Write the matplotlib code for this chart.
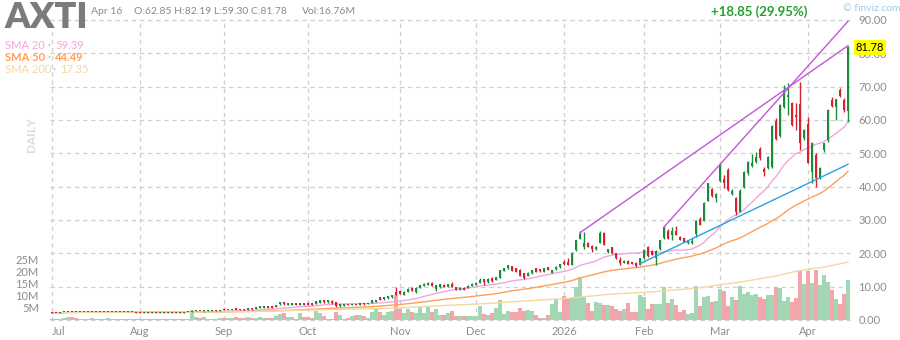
import matplotlib.pyplot as plt
import numpy as np
import pandas as pd

plt.rcParams['font.family'] = ['Lato', 'DejaVu Sans']

# ── styling ────────────────────────────────────────────────────────────────
GREEN = "#1b8c3a"
RED = "#d8202e"
VOL_GREEN = "#a3d6b2"
VOL_RED = "#f1a6ac"
SMA20_COLOR = "#f2a6de"
SMA50_COLOR = "#ff9f57"
SMA200_COLOR = "#f3d8a0"
TREND_PURPLE = "#c455dc"
TREND_BLUE = "#25a3e3"
GRID_COLOR = "#cfcfcf"
LABEL_GRAY = "#8c8c8c"
PRICE_TOP = 90
VOL_TOP = 125e6
W, H = 900, 340
# ───────────────────────────────────────────────────────────────────────────

# trading calendar
HOLIDAYS = ["2025-07-04", "2025-09-01", "2025-11-27", "2025-12-25",
            "2026-01-01", "2026-01-19", "2026-02-16", "2026-04-03"]
dates = pd.bdate_range("2025-07-01", "2026-04-16")
dates = dates[~dates.isin(pd.to_datetime(HOLIDAYS))]

# daily bars (open, high, low, close), one list per month
jul = [(2.35, 2.40, 2.00, 2.05), (2.15, 2.20, 2.00, 2.05), (2.10, 2.32, 2.05, 2.30),
       (2.30, 2.48, 2.28, 2.45), (2.40, 2.50, 2.35, 2.45), (2.50, 2.55, 2.36, 2.40),
       (2.40, 2.44, 2.26, 2.30), (2.30, 2.42, 2.28, 2.40), (2.40, 2.48, 2.36, 2.45),
       (2.40, 2.52, 2.38, 2.50), (2.45, 2.55, 2.42, 2.50), (2.50, 2.54, 2.36, 2.40),
       (2.40, 2.52, 2.38, 2.50), (2.50, 2.55, 2.36, 2.40), (2.40, 2.48, 2.37, 2.45),
       (2.50, 2.52, 2.32, 2.35), (2.45, 2.48, 2.32, 2.35), (2.35, 2.48, 2.33, 2.45),
       (2.50, 2.52, 2.33, 2.35), (2.45, 2.47, 2.28, 2.30), (2.30, 2.42, 2.28, 2.40),
       (2.40, 2.42, 2.22, 2.25)]
aug = [(2.30, 2.33, 2.17, 2.20), (2.20, 2.32, 2.18, 2.30), (2.30, 2.32, 2.17, 2.20),
       (2.20, 2.32, 2.18, 2.30), (2.30, 2.32, 2.12, 2.15), (2.15, 2.32, 2.13, 2.30),
       (2.30, 2.33, 2.17, 2.20), (2.20, 2.32, 2.18, 2.30), (2.30, 2.32, 2.17, 2.20),
       (2.20, 2.28, 2.18, 2.25), (2.30, 2.32, 2.17, 2.20), (2.20, 2.32, 2.18, 2.30),
       (2.30, 2.42, 2.26, 2.40), (2.40, 2.85, 2.38, 2.75), (2.65, 2.88, 2.60, 2.80),
       (2.80, 2.84, 2.56, 2.60), (2.60, 2.78, 2.55, 2.75), (2.75, 2.98, 2.72, 2.95),
       (2.85, 3.04, 2.82, 3.00), (3.00, 3.05, 2.80, 2.85), (2.85, 3.10, 2.82, 3.05)]
sep = [(3.40, 3.55, 2.95, 3.00), (3.00, 3.35, 2.95, 3.30), (3.10, 3.35, 3.05, 3.30),
       (3.50, 3.60, 3.05, 3.10), (3.40, 3.45, 3.05, 3.10), (3.30, 3.35, 3.05, 3.10),
       (3.10, 3.55, 3.05, 3.50), (3.50, 3.60, 3.15, 3.20), (3.30, 3.95, 3.25, 3.90),
       (3.60, 4.15, 3.55, 4.10), (3.70, 4.15, 3.65, 4.10), (4.20, 4.30, 3.65, 3.70),
       (4.10, 4.15, 3.65, 3.70), (3.90, 4.45, 3.85, 4.40), (4.70, 5.40, 4.60, 5.30),
       (5.30, 5.45, 4.65, 4.70), (4.50, 5.05, 4.45, 5.00), (4.50, 5.15, 4.40, 5.10),
       (5.10, 5.20, 4.55, 4.60), (4.60, 5.05, 4.50, 5.00), (5.10, 5.20, 4.55, 4.60)]
oct_ = [(5.20, 5.30, 4.45, 4.50), (5.00, 5.05, 4.45, 4.50), (4.80, 5.75, 4.75, 5.70),
        (5.20, 5.95, 5.15, 5.90), (5.90, 6.00, 5.25, 5.30), (5.30, 5.95, 5.25, 5.90),
        (5.80, 5.90, 4.95, 5.00), (5.40, 5.45, 4.00, 4.10), (4.10, 4.75, 4.00, 4.70),
        (4.20, 4.75, 4.15, 4.70), (4.90, 4.95, 4.45, 4.50), (4.50, 4.95, 4.45, 4.90),
        (4.90, 4.95, 4.45, 4.50), (4.60, 5.15, 4.55, 5.10), (5.20, 5.25, 4.65, 4.70),
        (4.80, 5.25, 4.75, 5.20), (5.20, 5.95, 5.15, 5.90), (5.50, 6.15, 5.45, 6.10),
        (6.80, 6.90, 5.95, 6.00), (6.20, 6.95, 6.15, 6.90), (6.50, 7.25, 6.45, 7.20),
        (6.80, 7.45, 6.75, 7.40), (8.50, 10.00, 7.50, 7.60)]
nov = [(8.80, 9.00, 7.70, 7.80), (7.60, 8.60, 7.50, 8.50), (8.50, 9.50, 8.40, 9.40),
       (9.70, 9.90, 8.70, 8.80), (8.50, 9.80, 8.00, 9.70), (9.70, 10.50, 9.60, 10.40),
       (10.20, 11.00, 10.10, 10.90), (10.60, 11.30, 10.50, 11.10), (11.20, 11.30, 10.20, 10.30),
       (9.30, 10.60, 8.80, 10.50), (9.80, 10.80, 9.70, 10.70), (10.60, 10.70, 9.80, 9.90),
       (10.00, 10.80, 9.90, 10.70), (10.80, 11.50, 9.90, 10.00), (9.80, 9.90, 9.00, 9.10),
       (9.10, 9.80, 9.00, 9.70), (9.70, 9.80, 9.00, 9.10), (9.60, 10.40, 9.50, 10.30),
       (10.30, 11.00, 10.20, 10.90)]
dec = [(10.60, 11.30, 10.50, 11.20), (11.20, 12.60, 11.10, 12.10), (12.20, 12.30, 10.60, 11.30),
       (11.30, 12.50, 11.20, 12.40), (12.70, 12.90, 11.50, 11.60), (12.00, 12.90, 11.90, 12.80),
       (12.60, 15.10, 12.50, 15.00), (14.80, 15.70, 14.60, 15.50), (15.50, 16.60, 15.40, 16.40),
       (16.10, 16.30, 14.70, 14.80), (15.50, 15.60, 14.40, 14.50), (15.00, 15.20, 13.20, 13.30),
       (14.00, 14.10, 12.40, 12.60), (13.20, 14.30, 13.10, 14.20), (14.00, 15.10, 13.90, 15.00),
       (15.50, 15.70, 14.40, 14.50), (15.20, 15.40, 14.50, 14.60), (14.50, 15.60, 14.40, 15.50),
       (15.80, 16.00, 14.90, 15.00), (14.20, 15.10, 14.10, 15.00), (15.20, 16.10, 15.10, 16.00),
       (15.80, 16.90, 15.70, 16.80)]
jan = [(17.50, 18.00, 16.60, 16.70), (17.30, 18.60, 16.50, 16.60), (16.60, 20.30, 16.50, 20.20),
       (21.00, 24.10, 20.80, 24.00), (24.40, 26.60, 24.20, 25.80), (21.80, 26.40, 21.20, 23.20),
       (23.00, 23.40, 21.90, 22.00), (22.20, 22.40, 20.40, 21.20), (21.20, 22.20, 21.00, 22.00),
       (23.20, 26.60, 23.00, 26.00), (26.00, 26.30, 22.40, 22.50), (20.50, 21.40, 20.20, 21.20),
       (21.80, 22.00, 19.90, 20.00), (20.00, 20.20, 18.40, 18.50), (18.00, 18.80, 16.50, 17.20),
       (17.20, 17.90, 17.00, 17.80), (17.70, 17.90, 16.80, 16.90), (17.30, 17.50, 16.70, 16.80),
       (17.10, 17.30, 16.00, 16.30), (16.50, 18.60, 16.40, 18.50)]
feb = [(18.50, 21.20, 18.30, 21.00), (21.80, 22.20, 19.00, 19.20), (20.60, 21.00, 19.40, 19.50),
       (18.60, 21.00, 16.60, 20.80), (21.20, 24.00, 21.00, 23.90), (24.60, 28.10, 24.40, 28.00),
       (26.60, 27.30, 24.20, 24.30), (25.50, 28.00, 24.00, 26.60), (26.60, 28.20, 25.40, 25.50),
       (25.00, 25.20, 23.90, 24.00), (24.50, 24.70, 23.40, 23.50), (23.00, 23.90, 22.80, 23.80),
       (23.00, 24.50, 22.80, 23.80), (25.80, 30.00, 24.80, 29.80), (30.20, 30.80, 28.40, 28.60),
       (29.80, 35.40, 29.60, 35.20), (35.80, 41.20, 35.60, 41.00), (39.20, 39.60, 37.00, 37.20),
       (36.60, 38.00, 35.50, 37.80)]
mar = [(41.80, 47.00, 41.50, 46.50), (42.20, 43.50, 39.50, 41.20), (45.00, 45.50, 38.80, 39.00),
       (37.80, 39.20, 37.50, 38.80), (36.50, 37.00, 31.50, 32.50), (32.50, 39.20, 32.30, 38.80),
       (40.00, 44.80, 39.50, 44.50), (44.00, 47.80, 43.50, 47.50), (46.20, 49.80, 45.80, 47.20),
       (47.50, 50.50, 47.20, 49.00), (51.30, 51.80, 48.00, 48.50), (45.30, 45.80, 43.20, 44.50),
       (45.50, 49.30, 45.20, 49.00), (46.00, 58.50, 45.60, 58.20), (59.80, 60.50, 54.00, 54.40),
       (55.20, 64.80, 54.80, 64.50), (64.00, 70.50, 63.50, 69.00), (66.80, 71.00, 61.50, 67.50),
       (65.00, 65.50, 58.20, 58.50), (61.50, 65.00, 57.00, 60.80), (64.70, 71.50, 51.00, 53.00),
       (54.50, 57.30, 54.00, 57.00)]
apr = [(58.80, 61.00, 47.00, 47.20), (44.50, 53.50, 41.00, 53.00), (49.50, 50.00, 40.00, 42.50),
       (42.50, 45.80, 42.20, 45.50), (51.00, 53.20, 50.50, 53.00), (54.00, 63.30, 53.50, 63.00),
       (66.00, 67.00, 63.80, 64.30), (64.00, 66.40, 60.00, 66.20), (69.00, 69.50, 66.80, 67.30),
       (66.00, 66.50, 62.50, 62.93), (62.85, 82.19, 59.30, 81.78)]

# daily volume, millions of shares
vol_jul = [0.6, 0.4, 0.5, 0.9, 1.1, 1.2, 0.8, 0.5, 0.4, 0.6, 0.7, 0.5, 0.4, 0.6, 0.8, 0.5,
           0.4, 0.3, 0.5, 0.6, 0.4, 0.5]
vol_aug = [0.4, 0.3, 0.4, 0.3, 0.5, 0.4, 0.3, 0.4, 0.3, 0.3, 0.4, 0.3, 0.5, 4.2, 1.4, 0.8,
           1.2, 0.6, 0.5, 0.5, 1.0]
vol_sep = [0.8, 0.9, 0.7, 1.2, 0.8, 0.7, 1.1, 0.9, 1.0, 1.3, 0.8, 0.9, 1.0, 1.7, 2.4, 2.9,
           1.2, 1.4, 0.5, 2.8, 1.4]
vol_oct = [1.4, 0.9, 3.8, 2.8, 1.7, 0.5, 0.5, 3.5, 2.1, 0.5, 0.9, 1.7, 2.1, 1.9, 1.7, 0.9,
           3.5, 5.1, 3.5, 1.9, 3.4, 3.8, 10.4]
vol_nov = [4.4, 2.8, 4.6, 3.2, 2.8, 5.4, 3.0, 5.7, 3.5, 4.4, 2.1, 2.1, 2.8, 3.8, 1.7, 1.7,
           1.7, 1.7, 1.7]
vol_dec = [1.7, 5.8, 2.5, 2.1, 3.1, 4.9, 8.3, 2.5, 3.9, 3.5, 3.5, 5.1, 3.9, 4.2, 3.9, 2.1,
           1.0, 0.8, 2.1, 6.7, 8.8, 3.5]
vol_jan = [10.0, 8.8, 9.4, 13.6, 17.8, 9.4, 7.2, 3.9, 7.6, 7.0, 6.2, 6.4, 5.8, 4.6, 3.9, 4.6,
           7.0, 3.5, 3.5, 10.4]
vol_feb = [9.7, 4.6, 6.7, 6.7, 6.7, 13.6, 7.0, 8.6, 6.2, 3.5, 4.2, 2.5, 2.8, 14.2, 5.8, 9.7,
           10.0, 7.6, 8.0]
vol_mar = [12.8, 12.2, 5.8, 9.4, 8.3, 14.2, 10.8, 11.7, 10.6, 10.8, 9.7, 8.6, 10.4, 10.4,
           13.6, 13.3, 8.0, 9.4, 7.5, 9.0, 20.4, 15.0]
vol_apr = [20.4, 15.3, 20.8, 14.6, 18.8, 16.0, 12.5, 8.6, 6.7, 10.7, 16.76]

# trend lines: (start date, start price, end date, end price)
trend_purple = [("2026-01-08", 26.2, "2026-04-16", 82.3),
                ("2026-02-09", 27.9, "2026-04-16", 89.6)]
trend_blue = [("2026-01-30", 16.9, "2026-04-16", 46.7)]

sma_windows = [20, 50, 200]
sma_labels = ["SMA 20", "SMA 50", "SMA 200"]
sma_values = ["59.39", "44.49", "17.35"]

ticker = "AXTI"
header_date = "Apr 16"
header_ohlc = "O:62.85 H:82.19 L:59.30 C:81.78"
header_vol = "Vol:16.76M"
change_text = "+18.85 (29.95%)"
last_price = 81.78

ohlc = np.array(jul + aug + sep + oct_ + nov + dec + jan + feb + mar + apr)
opens, highs, lows, closes = ohlc.T
volume = np.array(vol_jul + vol_aug + vol_sep + vol_oct + vol_nov + vol_dec
                  + vol_jan + vol_feb + vol_mar + vol_apr) * 1e6
assert len(ohlc) == len(dates) == len(volume)

x = np.arange(len(dates))
pos = {d.strftime("%Y-%m-%d"): i for i, d in enumerate(dates)}
up = closes >= opens
candle_colors = np.where(up, GREEN, RED)
vol_colors = np.where(up, VOL_GREEN, VOL_RED)

# first trading day of each month
month_first = [i for i in range(len(dates)) if i == 0 or dates[i].month != dates[i - 1].month]
month_names = [dates[i].strftime("%b") if dates[i].month != 1 else str(dates[i].year)
               for i in month_first]

fig = plt.figure(figsize=(W / 100, H / 100), dpi=100)
axv = fig.add_axes([50 / W, 20 / H, 800 / W, 300 / H])
ax = axv.twinx()
ax.set_zorder(axv.get_zorder() + 1)
ax.patch.set_visible(False)

# grid (under the volume bars)
for p in range(0, PRICE_TOP + 1, 10):
    axv.plot([0, 1], [p, p], transform=ax.get_yaxis_transform(), color=GRID_COLOR,
             lw=0.9, ls=(0, (3.5, 3)), zorder=0, clip_on=False)
for i in month_first:
    axv.axvline(i, color=GRID_COLOR, lw=0.9, ls=(0, (3.5, 3)), zorder=0)

# volume
axv.bar(x, volume, width=0.85, color=vol_colors, lw=0, zorder=1)
axv.set_ylim(0, VOL_TOP)
axv.set_xlim(-0.5, len(dates) - 0.5)

# moving averages
sma_colors = [SMA20_COLOR, SMA50_COLOR, SMA200_COLOR]
for n, c in zip(sma_windows, sma_colors):
    sma = pd.Series(closes).rolling(n, min_periods=1).mean()
    ax.plot(x, sma, color=c, lw=1.0, zorder=2)

# candles
body_low = np.minimum(opens, closes)
body_h = np.maximum(np.abs(closes - opens), 0.3)
ax.vlines(x, lows, highs, colors=candle_colors, lw=1.0, zorder=3)
ax.bar(x, body_h, bottom=body_low, width=0.72, color=candle_colors, lw=0, zorder=3)

# trend lines
for lines, c in [(trend_purple, TREND_PURPLE), (trend_blue, TREND_BLUE)]:
    for d0, p0, d1, p1 in lines:
        ax.plot([pos[d0], pos[d1]], [p0, p1], color=c, lw=1.0, zorder=4)

ax.set_ylim(0, PRICE_TOP)
ax.set_xlim(-0.5, len(dates) - 0.5)

for a in (ax, axv):
    for s in a.spines.values():
        s.set_visible(False)

# price axis on the right
ax.set_yticks(range(0, PRICE_TOP + 1, 10))
ax.set_yticklabels([f"{v:.2f}" for v in range(0, PRICE_TOP + 1, 10)])
ax.tick_params(axis="y", length=0, pad=6, labelsize=8, labelcolor=LABEL_GRAY)

# volume axis on the left
vol_ticks = [5e6, 10e6, 15e6, 20e6, 25e6]
axv.set_yticks(vol_ticks)
axv.set_yticklabels([f"{v / 1e6:.0f}M" for v in vol_ticks])
axv.tick_params(axis="y", length=0, pad=8, labelsize=8, labelcolor=LABEL_GRAY)

# month labels
axv.set_xticks(month_first)
axv.set_xticklabels(month_names)
axv.tick_params(axis="x", length=0, pad=4, labelsize=8, labelcolor=LABEL_GRAY)
axv.get_xticklabels()[0].set_horizontalalignment("left")
ax.tick_params(axis="x", length=0, labelbottom=False)

# last price tag, drawn over the price scale
ax.annotate(f"{last_price:.2f}", xy=(1, last_price), xycoords=("axes fraction", "data"),
            xytext=(4, 0), textcoords="offset points", va="center", ha="left",
            fontsize=8, color="black", zorder=10,
            bbox=dict(boxstyle="square,pad=0.15", fc="#ffff00", ec="none"))

# header
def ftext(px, py, s, **kw):
    fig.text(px / W, 1 - py / H, s, va="baseline", **kw)

ftext(4, 27.5, ticker, fontsize=26, fontweight="heavy", color="#7b7b7b")
ftext(91, 14, header_date, fontsize=7.5, color="#8a8a8a")
ftext(134, 14, header_ohlc, fontsize=7.5, color="#8a8a8a")
ftext(302, 14, header_vol, fontsize=7.5, color="#8a8a8a")
ftext(711, 16, change_text, fontsize=9.5, fontweight="bold", color="#22a132")
ftext(843, 11, "© finviz.com", fontsize=7.5, color="#9bcbea")

# moving-average legend
for k, (lab, val, c) in enumerate(zip(sma_labels, sma_values, sma_colors)):
    yb = 49 + 12 * k
    wt = "bold" if k == 1 else "normal"
    ftext(5, yb, lab, fontsize=8, color=c, fontweight=wt)
    dot_x = 47 if k < 2 else 52
    ftext(dot_x, yb, "·", fontsize=8, color="#b0b0b0")
    ftext(dot_x + 8, yb, val, fontsize=8, color=c, fontweight=wt)

fig.text(31 / W, 1 - 135 / H, "DAILY", rotation=90, ha="center", va="center",
         fontsize=8.5, fontweight="bold", color="#dcdcdc")

fig.savefig("out.png", dpi=100)
